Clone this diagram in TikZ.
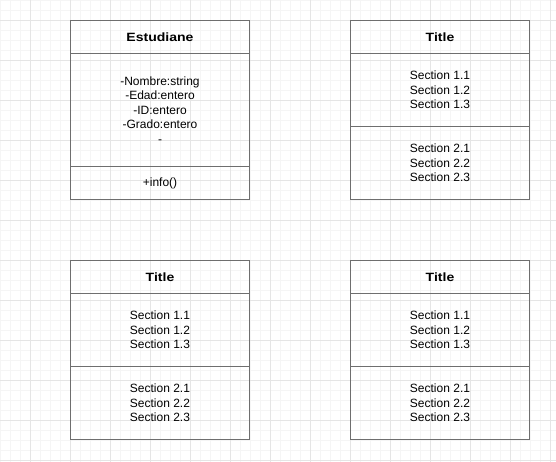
\documentclass[tikz,border=0pt]{standalone}
\usepackage{fontspec}
\setmainfont{Liberation Sans}
\newfontfamily\headfont{Liberation Sans}[FakeStretch=1.17]
\definecolor{gridminor}{RGB}{245,245,245}
\definecolor{gridmajor}{RGB}{229,229,229}
\definecolor{boxline}{RGB}{110,110,110}
\begin{document}
\begin{tikzpicture}[x=1pt,y=-1pt,
  part/.style={draw=boxline, line width=1pt, rectangle, inner sep=0pt, outer sep=0pt,
    minimum width=179pt, anchor=north west, align=center,
    font=\fontsize{12}{14.5}\selectfont},
  headpart/.style={part, minimum height=33pt, font=\headfont\fontsize{12}{14.5}\selectfont\bfseries},
  tallpart/.style={part, minimum height=113pt},
  halfpart/.style={part, minimum height=73pt},
  footpart/.style={part, minimum height=33pt}]
\useasboundingbox (0,0) rectangle (556,462);
\fill[white] (0,0) rectangle (556,462);
% background grid
\foreach \gx in {0.5,10.5,...,550.5} \draw[gridminor, line width=1pt] (\gx,0) -- (\gx,462);
\foreach \gy in {0.5,10.5,...,460.5} \draw[gridminor, line width=1pt] (0,\gy) -- (556,\gy);
\foreach \gx in {30.5,70.5,...,550.5} \draw[gridmajor, line width=1pt] (\gx,0) -- (\gx,462);
\foreach \gy in {20.5,60.5,...,460.5} \draw[gridmajor, line width=1pt] (0,\gy) -- (556,\gy);

% class Estudiane
\node[headpart] (e-head) at (70.5,20.5) {Estudiane};
\node[tallpart] (e-attr) at (e-head.south west) {-Nombre:string\\-Edad:entero\\-ID:entero\\-Grado:entero\\-};
\node[footpart] (e-meth) at (e-attr.south west) {+info()};

% generic class boxes
\node[headpart] (a-head) at (350.5,20.5) {Title};
\node[halfpart] (a-sec1) at (a-head.south west) {Section 1.1\\Section 1.2\\Section 1.3};
\node[halfpart] (a-sec2) at (a-sec1.south west) {Section 2.1\\Section 2.2\\Section 2.3};

\node[headpart] (b-head) at (70.5,260.5) {Title};
\node[halfpart] (b-sec1) at (b-head.south west) {Section 1.1\\Section 1.2\\Section 1.3};
\node[halfpart] (b-sec2) at (b-sec1.south west) {Section 2.1\\Section 2.2\\Section 2.3};

\node[headpart] (c-head) at (350.5,260.5) {Title};
\node[halfpart] (c-sec1) at (c-head.south west) {Section 1.1\\Section 1.2\\Section 1.3};
\node[halfpart] (c-sec2) at (c-sec1.south west) {Section 2.1\\Section 2.2\\Section 2.3};
\end{tikzpicture}
\end{document}
